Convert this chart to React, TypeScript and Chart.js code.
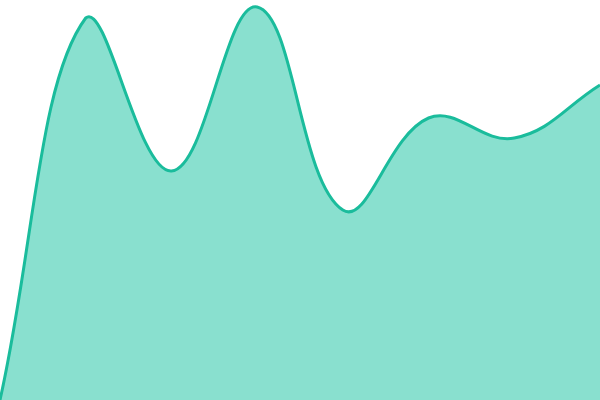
import React, { useEffect, useRef } from "react";
import { Chart, registerables } from "chart.js";

Chart.register(...registerables);

const labels = ["1", "2", "3", "4", "5", "6", "7", "8"];
const values = [0, 95.5, 57.25, 98.25, 47.5, 70.5, 65.5, 78.75];

export default function App() {
  const ref = useRef<HTMLCanvasElement | null>(null);
  useEffect(() => {
    document.body.style.margin = "0";
    const chart = new Chart(ref.current!, {
      type: "line",
      data: {
        labels,
        datasets: [
          {
            data: values,
            borderColor: "#1abc9c",
            backgroundColor: "rgba(19,193,159,0.5)",
            borderWidth: 3,
            fill: "origin",
            tension: 0.4,
            pointRadius: 0,
          },
        ],
      },
      options: {
        animation: false,
        responsive: false,
        maintainAspectRatio: false,
        layout: { padding: 0 },
        plugins: { legend: { display: false }, tooltip: { enabled: false } },
        scales: {
          x: { display: false },
          y: { display: false, min: 0, max: 100 },
        },
      },
    });
    return () => chart.destroy();
  }, []);
  return (
    <div style={{ width: 600, height: 400 }}>
      <canvas ref={ref} width={600} height={400} style={{ display: "block" }} />
    </div>
  );
}
